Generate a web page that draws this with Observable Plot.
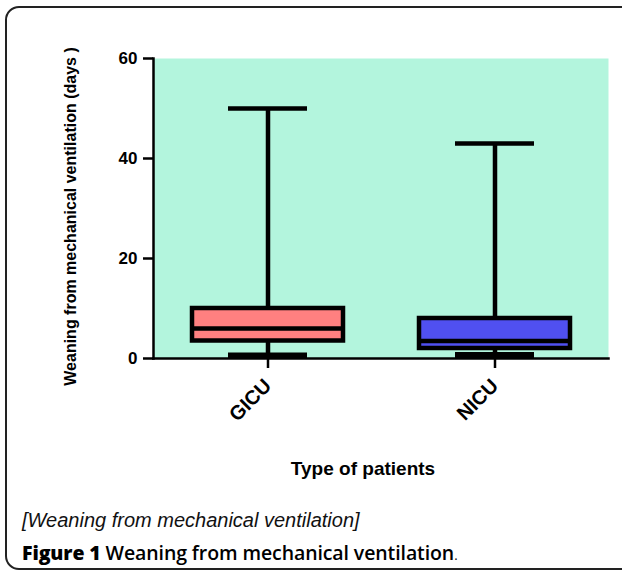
<!DOCTYPE html>
<html><head><meta charset="utf-8">
<script src="https://cdn.jsdelivr.net/npm/d3@7"></script>
<script src="https://cdn.jsdelivr.net/npm/@observablehq/plot@0.6"></script>
<style>
body{margin:0;background:#fff;width:622px;height:572px;overflow:hidden;position:relative;font-family:"Liberation Sans",Arial,sans-serif;color:#000}
#frame{position:absolute;left:5px;top:6px;width:640px;height:564px;border:2px solid #222;border-radius:14px;box-sizing:border-box}
#chart{position:absolute;left:0;top:0}
#cap1{position:absolute;left:22px;top:509px;font-style:italic;font-size:20px;line-height:22px;color:#111}
#cap2{position:absolute;left:22px;top:542px;font-family:"Open Sans",sans-serif;font-size:19.5px;font-weight:600;line-height:22px;letter-spacing:-0.1px}
</style></head><body>
<div id="frame"></div>
<div id="chart"></div>
<div id="cap1">[Weaning from mechanical ventilation]</div>
<div id="cap2"><b>Figure 1</b> Weaning from mechanical ventilation<span style="font-weight:400;font-size:13px">.</span></div>
<script>
const groups = ["GICU", "NICU"];
const minValues = [0.6, 0.7];
const q1Values = [3.5, 2];
const medianValues = [6, 3.5];
const q3Values = [10, 8];
const maxValues = [50, 43];
const boxColors = ["#ff8080", "#5050f0"];
const yTicks = [0, 20, 40, 60];
const yLabel = "Weaning from mechanical ventilation (days )";
const xLabel = "Type of patients";

const data = groups.map((g, i) => ({
  group: g, min: minValues[i], q1: q1Values[i], median: medianValues[i], q3: q3Values[i], max: maxValues[i]
}));

const chart = Plot.plot({
  width: 622, height: 500,
  marginLeft: 153, marginRight: 14, marginTop: 58, marginBottom: 142,
  style: {fontFamily: "'Liberation Sans', Arial, sans-serif", fontWeight: "bold", fontSize: "17px", color: "#000", background: "transparent", overflow: "visible"},
  x: {domain: groups, paddingInner: 0.336, paddingOuter: 0.168},
  y: {domain: [0, 60]},
  color: {domain: groups, range: boxColors},
  marks: [
    Plot.frame({fill: "#b3f5dd", stroke: null}),
    Plot.ruleX(data, {x: "group", y1: "min", y2: "max", strokeWidth: 4.5}),
    Plot.tickY(data, {x: "group", y: "max", insetLeft: 36, insetRight: 36, strokeWidth: 4.5}),
    Plot.tickY(data, {x: "group", y: "min", insetLeft: 36, insetRight: 36, strokeWidth: 6}),
    Plot.barY(data, {x: "group", y1: "q1", y2: "q3", fill: "group", stroke: "#000", strokeWidth: 4.5}),
    Plot.tickY(data, {x: "group", y: "median", strokeWidth: 4.5}),
    Plot.axisY({ticks: yTicks, tickSize: 10, tickPadding: 6, strokeWidth: 2.5, fontSize: 17, label: null}),
    Plot.text([yLabel], {frameAnchor: "left", textAnchor: "middle", rotate: -90, dx: -83, dy: 8, fontSize: 16, fontWeight: "bold"}),
    Plot.axisX({tickSize: 10, tickRotate: -45, tickPadding: 14, strokeWidth: 2.5, fontSize: 20, label: null}),
    Plot.frame({anchor: "left", strokeWidth: 2.5}),
    Plot.frame({anchor: "bottom", strokeWidth: 2.5}),
    Plot.text([xLabel], {frameAnchor: "bottom", textAnchor: "middle", dy: 116, dx: -18, fontSize: 19, fontWeight: "bold", style: "letter-spacing:0.4px"})
  ]
});
document.getElementById("chart").appendChild(chart);
</script>
</body></html>
